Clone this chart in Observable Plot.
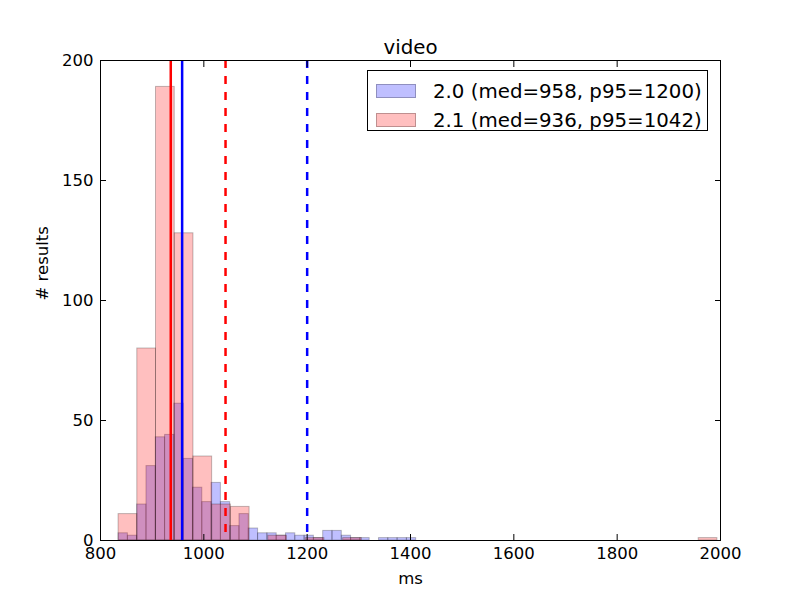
<!DOCTYPE html>
<html>
<head>
<meta charset="utf-8">
<script src="https://cdn.jsdelivr.net/npm/d3@7"></script>
<script src="https://cdn.jsdelivr.net/npm/@observablehq/plot@0.6"></script>
<style>
  body { margin: 0; background: #fff; font-family: "DejaVu Sans", sans-serif; }
  #wrap { position: relative; width: 800px; height: 600px; }
  #legend { position: absolute; left: 367px; top: 70px; width: 341px; height: 61px;
            border: 1px solid #000; background: #fff; box-sizing: border-box; }
  .row { position: absolute; left: 8px; height: 20px; display: flex; align-items: center; }
  .sw { width: 40px; height: 14px; box-sizing: border-box; margin-right: 17px; }
  .lbl { font-size: 19.8px; color: #000; white-space: nowrap; }
</style>
</head>
<body>
<div id="wrap"></div>
<script>
// ---- data ----
const title = "video";
const seriesNames = ["2.0", "2.1"];
const seriesColors = ["#0000ff", "#ff0000"];
const medians = [958, 936];
const p95s = [1200, 1042];
// histogram counts (32 equal-width bins each)
const counts20 = [3, 2, 15, 31, 43, 44, 57, 34, 22, 16, 24, 16, 6, 11, 5, 3,
                  3, 2, 3, 2, 2, 1, 4, 4, 2, 1, 1, 0, 1, 1, 1, 1];
const counts21 = [11, 80, 189, 128, 35, 15, 14, 0, 2, 0, 1, 0, 1, 0, 0, 0,
                  0, 0, 0, 0, 0, 0, 0, 0, 0, 0, 0, 0, 0, 0, 0, 1];
const range20 = [835, 1411];
const range21 = [835, 1994];
const xTicks = [800, 1000, 1200, 1400, 1600, 1800, 2000];
const yTicks = [0, 50, 100, 150, 200];
const xDomain = [800, 2000];
const yDomain = [0, 200];

function bins(counts, range) {
  const w = (range[1] - range[0]) / counts.length;
  return counts.map((c, i) => ({x1: range[0] + i * w, x2: range[0] + (i + 1) * w, count: c}));
}
const allSeries = [
  {name: seriesNames[0], color: seriesColors[0], med: medians[0], p95: p95s[0], bins: bins(counts20, range20)},
  {name: seriesNames[1], color: seriesColors[1], med: medians[1], p95: p95s[1], bins: bins(counts21, range21)}
];

const marks = [];
for (const s of allSeries) {
  marks.push(Plot.rectY(s.bins, {x1: "x1", x2: "x2", y: "count", fill: s.color, fillOpacity: 0.25,
    stroke: "#000", strokeOpacity: 0.25, strokeWidth: 1}));
}
for (const s of allSeries) {
  marks.push(Plot.ruleX([s.med], {x: d => d, stroke: s.color, strokeWidth: 2.5}));
  marks.push(Plot.ruleX([s.p95], {x: d => d, stroke: s.color, strokeWidth: 2.5, strokeDasharray: "8,8"}));
}
marks.push(
  Plot.frame({stroke: "#000", strokeWidth: 1}),
  Plot.axisX({anchor: "bottom", ticks: xTicks, tickSize: 0, tickPadding: 7, label: null, fontSize: 16.5, tickFormat: d => String(d)}),
  Plot.axisY({anchor: "left", ticks: yTicks, tickSize: 0, tickPadding: 7, label: null, fontSize: 16.5, tickFormat: d => String(d)}),
  Plot.axisX({anchor: "bottom", ticks: xTicks, tickSize: -6, tickFormat: () => "", label: null}),
  Plot.axisX({anchor: "top", ticks: xTicks, tickSize: -6, tickFormat: () => "", label: null}),
  Plot.axisY({anchor: "left", ticks: yTicks, tickSize: -6, tickFormat: () => "", label: null}),
  Plot.axisY({anchor: "right", ticks: yTicks, tickSize: -6, tickFormat: () => "", label: null}),
  Plot.text([title], {frameAnchor: "top", text: d => d, dy: -7, lineAnchor: "bottom", fontSize: 19.8}),
  Plot.text(["ms"], {frameAnchor: "bottom", text: d => d, dy: 38, lineAnchor: "middle", fontSize: 16.5}),
  Plot.text(["# results"], {frameAnchor: "left", text: d => d, dx: -58, rotate: -90, lineAnchor: "middle", fontSize: 16.5})
);

const chart = Plot.plot({
  width: 800, height: 600,
  marginLeft: 100, marginRight: 80, marginTop: 60, marginBottom: 60,
  style: {fontFamily: "DejaVu Sans", color: "#000", background: "#fff", overflow: "visible"},
  x: {domain: xDomain},
  y: {domain: yDomain},
  marks
});
const wrap = document.getElementById("wrap");
wrap.appendChild(chart);

// legend
const leg = document.createElement("div");
leg.id = "legend";
allSeries.forEach((s, i) => {
  const row = document.createElement("div");
  row.className = "row";
  row.style.top = (i === 0 ? 10 : 39) + "px";
  const sw = document.createElement("div");
  sw.className = "sw";
  sw.style.background = s.color === "#0000ff" ? "rgba(0,0,255,0.25)" : "rgba(255,0,0,0.25)";
  sw.style.border = "1px solid rgba(0,0,0,0.25)";
  const lb = document.createElement("span");
  lb.className = "lbl";
  lb.textContent = `${s.name} (med=${s.med}, p95=${s.p95})`;
  row.appendChild(sw); row.appendChild(lb);
  leg.appendChild(row);
});
wrap.appendChild(leg);
</script>
</body>
</html>
